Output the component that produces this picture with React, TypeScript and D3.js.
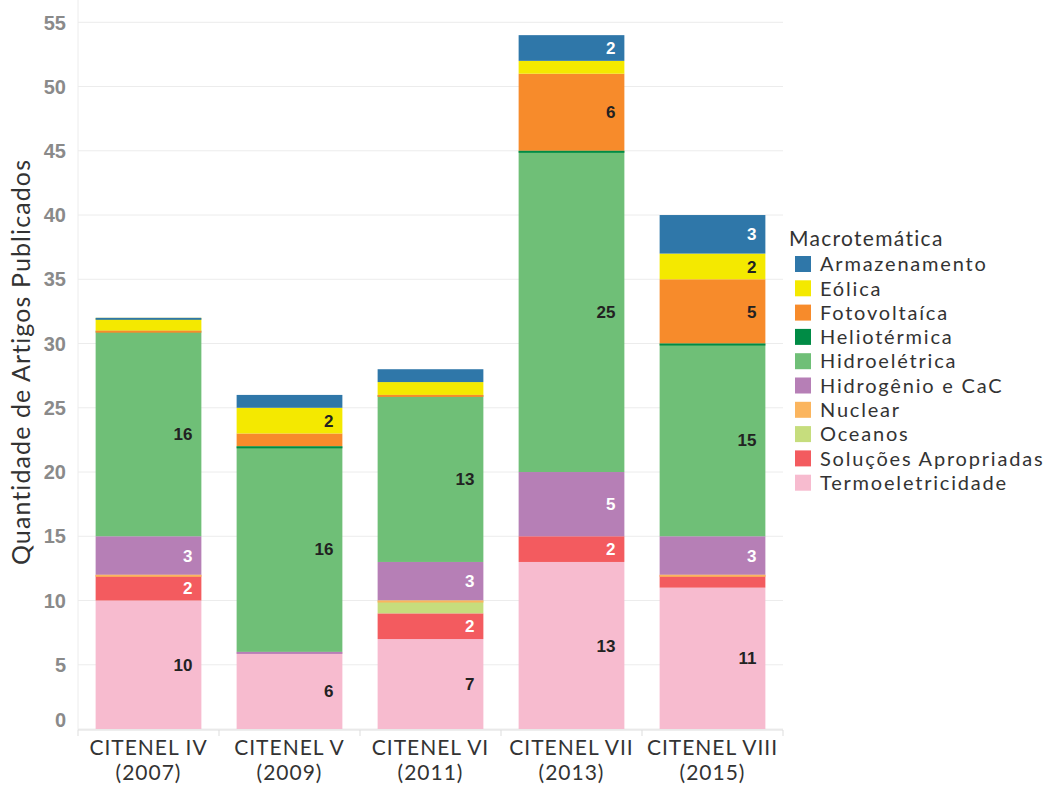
import React from "react";
import * as d3 from "d3";

const categories = ["CITENEL IV|(2007)", "CITENEL V|(2009)", "CITENEL VI|(2011)", "CITENEL VII|(2013)", "CITENEL VIII|(2015)"];

// stacking order, bottom to top
const seriesNames = [
  "Termoeletricidade",
  "Soluções Apropriadas",
  "Oceanos",
  "Nuclear",
  "Hidrogênio e CaC",
  "Hidroelétrica",
  "Heliotérmica",
  "Fotovoltaíca",
  "Eólica",
  "Armazenamento",
];

const termoeletricidade = [10, 6, 7, 13, 11];
const solucoes = [2, null, 2, 2, 1];
const oceanos = [null, null, 1, null, null];
const nuclear = [0, null, 0, null, 0];
const hidrogenio = [3, 0, 3, 5, 3];
const hidroeletrica = [16, 16, 13, 25, 15];
const heliotermica = [null, 0, null, 0, 0];
const fotovoltaica = [0, 1, 0, 6, 5];
const eolica = [1, 2, 1, 1, 2];
const armazenamento = [0, 1, 1, 2, 3];

const seriesValues: (number | null)[][] = [
  termoeletricidade, solucoes, oceanos, nuclear, hidrogenio,
  hidroeletrica, heliotermica, fotovoltaica, eolica, armazenamento,
];

const colors = [
  "#F7BBCF", "#F35B5F", "#C6DD7D", "#FBB55E", "#B67FB6",
  "#6FBF77", "#008B45", "#F78B2B", "#F4E900", "#2F77A9",
];
const whiteLabel = [false, true, false, false, true, false, false, false, false, true];

const legendOrder = [
  "Armazenamento", "Eólica", "Fotovoltaíca", "Heliotérmica", "Hidroelétrica",
  "Hidrogênio e CaC", "Nuclear", "Oceanos", "Soluções Apropriadas", "Termoeletricidade",
];

const yTicks = [0, 5, 10, 15, 20, 25, 30, 35, 40, 45, 50, 55];

export default function App() {
  const W = 1056, H = 788;
  const x = d3.scaleBand<string>().domain(categories).range([78, 783]).paddingInner(0.25).paddingOuter(0.125);
  const y = d3.scaleLinear().domain([0, 55]).range([729, 22.3]);
  const humanist = "Lato, 'Open Sans', sans-serif";
  const arial = "'Liberation Sans', Arial, sans-serif";

  const marks: React.ReactNode[] = [];
  const labels: React.ReactNode[] = [];
  categories.forEach((c, ci) => {
    let cum = 0;
    const x0 = x(c)!;
    const bw = x.bandwidth();
    const zeroMarks: React.ReactNode[] = [];
    seriesNames.forEach((s, si) => {
      const v = seriesValues[si][ci];
      if (v === null) return;
      if (v === 0) {
        zeroMarks.push(
          <rect key={`z${ci}-${si}`} x={x0} y={y(cum)} width={bw} height={2} fill={colors[si]} />
        );
        return;
      }
      const y1 = y(cum + v), y0 = y(cum);
      marks.push(<rect key={`${ci}-${si}`} x={x0} y={y1} width={bw} height={y0 - y1} fill={colors[si]} />);
      if (v >= 2) {
        labels.push(
          <text key={`l${ci}-${si}`} x={x0 + bw - 9} y={(y0 + y1) / 2} dy="0.36em" textAnchor="end"
            fontFamily={arial} fontWeight="bold" fontSize={17} fill={whiteLabel[si] ? "#ffffff" : "#222222"}>
            {v}
          </text>
        );
      }
      cum += v;
    });
    marks.push(...zeroMarks);
  });

  const bandEdges = categories.map((c) => x(c)! - (x.step() * x.paddingInner()) / 2);
  bandEdges.push(783);

  return (
    <svg width={W} height={H} style={{ position: "absolute", left: 0, top: 0, background: "#fff" }}>
      {yTicks.map((t) => (
        <line key={`g${t}`} x1={78} x2={783} y1={y(t)} y2={y(t)} stroke="#ececec" strokeWidth={1} />
      ))}
      <line x1={78} x2={78} y1={0} y2={730} stroke="#ececec" strokeWidth={1} />
      {marks}
      {labels}
      <line x1={78} x2={783} y1={730} y2={730} stroke="#dddddd" strokeWidth={1} />
      {bandEdges.map((e, i) => (
        <line key={`bt${i}`} x1={e} x2={e} y1={730} y2={736} stroke="#dddddd" strokeWidth={1} />
      ))}
      {yTicks.map((t) => (
        <text key={`t${t}`} x={66} y={y(t)} dy={t === 0 ? "-0.1em" : "0.36em"} textAnchor="end"
          fontFamily={arial} fontWeight="bold" fontSize={20} fill="#8a8a8a">
          {t}
        </text>
      ))}
      <text transform="translate(30,362) rotate(-90)" textAnchor="middle" fontFamily={humanist}
        fontSize={25} letterSpacing={1.1} fill="#333333">
        Quantidade de Artigos Publicados
      </text>
      {categories.map((c) => {
        const [a, b] = c.split("|");
        const cx = x(c)! + x.bandwidth() / 2;
        return (
          <g key={c}>
            <text x={cx} y={755} textAnchor="middle" fontFamily={humanist} fontSize={21} letterSpacing={1} fill="#333333">{a}</text>
            <text x={cx} y={780} textAnchor="middle" fontFamily={humanist} fontSize={21} letterSpacing={1} fill="#333333">{b}</text>
          </g>
        );
      })}
      <text x={789} y={246} fontFamily={humanist} fontSize={21} letterSpacing={1.3} fill="#333333">Macrotemática</text>
      {legendOrder.map((name, i) => {
        const si = seriesNames.indexOf(name);
        const cy = 264 + i * 24.3;
        return (
          <g key={name}>
            <rect x={795} y={cy - 8} width={16} height={16} fill={colors[si]} />
            <text x={820} y={cy} dy="0.36em" fontFamily={humanist} fontSize={20} letterSpacing={1.8} fill="#333333">{name}</text>
          </g>
        );
      })}
    </svg>
  );
}
